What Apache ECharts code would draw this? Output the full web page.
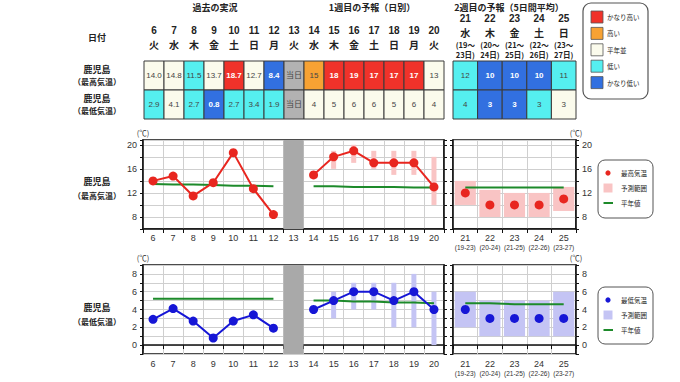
<!DOCTYPE html>
<html><head><meta charset="utf-8">
<script src="https://cdn.jsdelivr.net/npm/echarts@6/dist/echarts.min.js"></script>
<style>html,body{margin:0;padding:0;background:#fff}#c{width:680px;height:382px}</style>
</head><body><div id="c"></div>
<script>
// ---------- data ----------
const days1 = ['6','7','8','9','10','11','12','13','14','15','16','17','18','19','20'];
const weekdays1 = ['火','水','木','金','土','日','月','火','水','木','金','土','日','月','火'];
const days2 = ['21','22','23','24','25'];
const weekdays2 = ['水','木','金','土','日'];
const periodStart2 = ['19','20','21','22','23'];
const periodEnd2 = ['23','24','25','26','27'];
const todayDay = '13';
const tableRows = ['鹿児島\n（最高気温）','鹿児島\n（最低気温）'];

const maxCellText1 = ['14.0','14.8','11.5','13.7','18.7','12.7','8.4','当日','15','18','19','17','17','17','13'];
const maxCellClass1 = ['n','n','l','n','vh','n','vl','x','h','vh','vh','vh','vh','vh','n'];
const minCellText1 = ['2.9','4.1','2.7','0.8','2.7','3.4','1.9','当日','4','5','6','6','5','6','4'];
const minCellClass1 = ['l','n','l','vl','l','l','l','x','n','n','n','n','n','n','n'];
const maxCellText2 = ['12','10','10','10','11'];
const maxCellClass2 = ['l','vl','vl','vl','l'];
const minCellText2 = ['4','3','3','3','3'];
const minCellClass2 = ['l','vl','vl','l','n'];

const legendClasses = ['vh','h','n','l','vl'];
const legendNames = ['かなり高い','高い','平年並','低い','かなり低い'];

const obsDays = ['6','7','8','9','10','11','12'];
const fcDays = ['14','15','16','17','18','19','20'];

const obsMax = [14.0,14.8,11.5,13.7,18.7,12.7,8.4];
const normMaxObs = [13.5,13.4,13.4,13.3,13.2,13.2,13.1];
const fcMax = [15,18,19,17,17,17,13];
const fcMaxLow = [null,16,17,16,15,15,10];
const fcMaxHigh = [null,19,20,19,19,19,18];
const normMaxFc = [13.1,13.1,13.0,13.0,13.0,12.9,12.9];
const w2Max = [12,10,10,10,11];
const w2MaxLow = [10,8,8,8,9];
const w2MaxHigh = [14,12.5,12,12,13];
const normMaxW2 = [12.9,12.9,12.9,12.9,12.9];

const obsMin = [2.9,4.1,2.7,0.8,2.7,3.4,1.9];
const normMinObs = [5.2,5.2,5.2,5.2,5.2,5.2,5.2];
const fcMin = [4,5,6,6,5,6,4];
const fcMinLow = [null,3,4,4,2,2,0];
const fcMinHigh = [null,6,7,7,7,8,6];
const normMinFc = [5.0,5.0,4.9,4.9,4.8,4.8,4.7];
const w2Min = [4,3,3,3,3];
const w2MinLow = [2,1,1,1,1];
const w2MinHigh = [6,5,5,5,6];
const normMinW2 = [4.7,4.7,4.6,4.6,4.6];

const maxTickLabels = [8,12,16,20];
const minTickLabels = [0,2,4,6,8];

// ---------- styles ----------
const FF = "'Liberation Sans','Noto Sans CJK JP',sans-serif";
const JF = "'Noto Sans CJK JP',sans-serif";
const classColors = {vh:'#f0322a', h:'#f7a233', n:'#fbfbec', l:'#55eff0', vl:'#3270e0', x:'#b2b2b2'};
const RED = '#e8261f', BLUE = '#1616d6', GREEN = '#1d8a2a';
const PINK = '#f9c4c4', LILAC = '#c4c4f4';
const TXT = '#333';

function tableData(rows, classes) {
  const data = [], info = [];
  rows.forEach((row, r) => row.forEach((t, i) => { data.push([i, r]); info.push({t: t, c: classes[r][i]}); }));
  return {data, info};
}
function tableRender(info) {
  return function (params, api) {
    const c = api.coord([api.value(0), api.value(1)]);
    const s = api.size([1, 1]);
    const it = info[params.dataIndex];
    const strong = it.c === 'vh' || it.c === 'vl';
    return {type: 'group', children: [
      {type: 'rect', shape: {x: c[0] - s[0] / 2, y: c[1] - s[1] / 2, width: s[0], height: s[1]},
       style: {fill: classColors[it.c], stroke: '#3a3a3a', lineWidth: 1}},
      {type: 'text', x: c[0], y: c[1], style: {text: it.t, textAlign: 'center', textVerticalAlign: 'middle',
       fontSize: 8, fontWeight: strong ? 'bold' : 'normal', fill: strong ? '#fff' : '#444', fontFamily: FF}}
    ]};
  };
}
function rangeRender(widthFrac, minPx, color) {
  return function (params, api) {
    const x = api.value(0);
    const p1 = api.coord([x, api.value(2)]);
    const p2 = api.coord([x, api.value(1)]);
    const cw = api.size([1, 0])[0];
    const w = Math.max(cw * widthFrac, minPx);
    return {type: 'rect', shape: {x: p1[0] - w / 2, y: p1[1], width: w, height: p2[1] - p1[1]}, style: {fill: color}};
  };
}
function grayRender(params, api) {
  const cs = params.coordSys;
  const x = api.coord([api.value(0), 0])[0];
  const w = api.size([1, 0])[0];
  return {type: 'rect', shape: {x: x - w / 2, y: cs.y, width: w, height: cs.height}, style: {fill: '#a9a9a9'}};
}
function rangeData(cats, days, lows, highs) {
  const out = [];
  days.forEach((d, i) => { if (lows[i] != null) out.push([cats.indexOf(d), lows[i], highs[i]]); });
  return out;
}
const pairs = (days, vals) => days.map((d, i) => [d, vals[i]]);

const t1 = tableData([maxCellText1, minCellText1], [maxCellClass1, minCellClass1]);
const t2 = tableData([maxCellText2, minCellText2], [maxCellClass2, minCellClass2]);

function chartX(gi, cats, week2, margin) {
  return {
    type: 'category', gridIndex: gi, data: cats, boundaryGap: true,
    axisLine: {show: true, lineStyle: {color: '#111', width: 1.5}},
    axisTick: {show: true, length: 4, lineStyle: {color: '#111'}},
    splitLine: {show: true, lineStyle: {color: '#cfcfcf', width: 1}},
    axisLabel: week2 ? {
      margin: margin, color: TXT, fontFamily: FF, interval: 0,
      formatter: (v, i) => `{d|${v}}\n{p|(${periodStart2[i]}-${periodEnd2[i]})}`,
      rich: {d: {fontSize: 9, lineHeight: 10, color: TXT, fontFamily: FF}, p: {fontSize: 6.5, lineHeight: 9, color: TXT, fontFamily: FF}}
    } : {margin: margin, color: TXT, fontSize: 9, fontFamily: FF, interval: 0}
  };
}
function chartY(gi, pos, min, max, interval, labels, showLabels) {
  return {
    type: 'value', gridIndex: gi, position: pos, min: min, max: max, interval: interval,
    name: showLabels ? '(℃)' : '', nameLocation: 'end', nameGap: 4,
    nameTextStyle: {fontSize: 7.5, color: TXT, fontFamily: JF},
    axisLine: {show: true, lineStyle: {color: '#111', width: 1.5}},
    axisTick: {show: true, length: 3, lineStyle: {color: '#111'}},
    splitLine: {show: showLabels, lineStyle: {color: '#cfcfcf', width: 1}},
    axisLabel: {show: showLabels, margin: 6, color: TXT, fontSize: 9, fontFamily: FF,
      formatter: v => (labels.indexOf(v) >= 0 ? String(v) : '')}
  };
}
const gridBox = {show: true, borderColor: '#111', borderWidth: 1.5, backgroundColor: '#fff'};

const option = {
  animation: false,
  grid: [
    {left: 144, top: 61, width: 300, height: 58},
    {left: 453, top: 61, width: 123, height: 58},
    Object.assign({left: 143, top: 140, width: 301, height: 89}, gridBox),
    Object.assign({left: 453, top: 140, width: 123, height: 89}, gridBox),
    Object.assign({left: 143, top: 265, width: 301, height: 89}, gridBox),
    Object.assign({left: 453, top: 265, width: 123, height: 89}, gridBox)
  ],
  xAxis: [
    {type: 'category', gridIndex: 0, data: days1, position: 'top', axisLine: {show: false}, axisTick: {show: false},
     axisLabel: {margin: 10, interval: 0, formatter: (v, i) => `{d|${v}}\n{w|${weekdays1[i]}}`,
       rich: {d: {fontSize: 10, fontWeight: 'bold', lineHeight: 14, color: '#222', fontFamily: FF},
              w: {fontSize: 10, fontWeight: 'bold', lineHeight: 14, color: '#222', fontFamily: JF}}}},
    {type: 'category', gridIndex: 1, data: days2, position: 'top', axisLine: {show: false}, axisTick: {show: false},
     axisLabel: {margin: 1, interval: 0,
       formatter: (v, i) => `{d|${v}}\n{w|${weekdays2[i]}}\n{p|(${periodStart2[i]}～}\n{p|${periodEnd2[i]}日)}`,
       rich: {d: {fontSize: 10, fontWeight: 'bold', lineHeight: 14, color: '#222', fontFamily: FF},
              w: {fontSize: 10, fontWeight: 'bold', lineHeight: 14, color: '#222', fontFamily: JF},
              p: {fontSize: 7.5, fontWeight: 'bold', lineHeight: 10.5, color: '#222', fontFamily: JF}}}},
    chartX(2, days1, false, 4),
    chartX(3, days2, true, 4),
    chartX(4, days1, false, 5),
    chartX(5, days2, true, 5)
  ],
  yAxis: [
    {type: 'category', gridIndex: 0, data: tableRows, inverse: true, axisLine: {show: false}, axisTick: {show: false},
     axisLabel: {align: 'center', margin: 47, formatter: v => { const p = v.split('\n'); return `{a|${p[0]}}\n{b|${p[1]}}`; },
       rich: {a: {fontSize: 9, fontWeight: 'bold', lineHeight: 12, color: '#222', fontFamily: JF, align: 'center'},
              b: {fontSize: 8, fontWeight: 'bold', lineHeight: 12, color: '#222', fontFamily: JF, align: 'center'}}}},
    {type: 'category', gridIndex: 1, data: tableRows, inverse: true, axisLine: {show: false}, axisTick: {show: false}, axisLabel: {show: false}},
    chartY(2, 'left', 6, 20.8, 2, maxTickLabels, true),
    chartY(3, 'right', 6, 20.8, 2, maxTickLabels, true),
    chartY(4, 'left', -1, 9, 1, minTickLabels, true),
    chartY(5, 'right', -1, 9, 1, minTickLabels, true),
    chartY(2, 'right', 6, 20.8, 2, maxTickLabels, false),
    chartY(3, 'left', 6, 20.8, 2, maxTickLabels, false),
    chartY(4, 'right', -1, 9, 1, minTickLabels, false),
    chartY(5, 'left', -1, 9, 1, minTickLabels, false)
  ],
  series: [
    {type: 'custom', xAxisIndex: 0, yAxisIndex: 0, data: t1.data, renderItem: tableRender(t1.info)},
    {type: 'custom', xAxisIndex: 1, yAxisIndex: 1, data: t2.data, renderItem: tableRender(t2.info)},
    // gray "today" columns
    {type: 'custom', xAxisIndex: 2, yAxisIndex: 2, data: [[days1.indexOf(todayDay)]], renderItem: grayRender, z: 1},
    {type: 'custom', xAxisIndex: 4, yAxisIndex: 4, data: [[days1.indexOf(todayDay)]], renderItem: grayRender, z: 1},
    // forecast ranges
    {type: 'custom', xAxisIndex: 2, yAxisIndex: 2, data: rangeData(days1, fcDays, fcMaxLow, fcMaxHigh), renderItem: rangeRender(0, 5, PINK), z: 1},
    {type: 'custom', xAxisIndex: 3, yAxisIndex: 3, data: rangeData(days2, days2, w2MaxLow, w2MaxHigh), renderItem: rangeRender(0.86, 0, PINK), z: 1},
    {type: 'custom', xAxisIndex: 4, yAxisIndex: 4, data: rangeData(days1, fcDays, fcMinLow, fcMinHigh), renderItem: rangeRender(0, 5, LILAC), z: 1},
    {type: 'custom', xAxisIndex: 5, yAxisIndex: 5, data: rangeData(days2, days2, w2MinLow, w2MinHigh), renderItem: rangeRender(0.86, 0, LILAC), z: 1},
    // normals
    {type: 'line', xAxisIndex: 2, yAxisIndex: 2, data: pairs(obsDays, normMaxObs), symbol: 'none', lineStyle: {color: GREEN, width: 2}, z: 2},
    {type: 'line', xAxisIndex: 2, yAxisIndex: 2, data: pairs(fcDays, normMaxFc), symbol: 'none', lineStyle: {color: GREEN, width: 2}, z: 2},
    {type: 'line', xAxisIndex: 3, yAxisIndex: 3, data: pairs(days2, normMaxW2), symbol: 'none', lineStyle: {color: GREEN, width: 2}, z: 2},
    {type: 'line', xAxisIndex: 4, yAxisIndex: 4, data: pairs(obsDays, normMinObs), symbol: 'none', lineStyle: {color: GREEN, width: 2}, z: 2},
    {type: 'line', xAxisIndex: 4, yAxisIndex: 4, data: pairs(fcDays, normMinFc), symbol: 'none', lineStyle: {color: GREEN, width: 2}, z: 2},
    {type: 'line', xAxisIndex: 5, yAxisIndex: 5, data: pairs(days2, normMinW2), symbol: 'none', lineStyle: {color: GREEN, width: 2}, z: 2},
    // observed / forecast temps
    {type: 'line', xAxisIndex: 2, yAxisIndex: 2, data: pairs(obsDays, obsMax), symbol: 'circle', symbolSize: 9, itemStyle: {color: RED}, lineStyle: {color: RED, width: 2}, z: 3},
    {type: 'line', xAxisIndex: 2, yAxisIndex: 2, data: pairs(fcDays, fcMax), symbol: 'circle', symbolSize: 9, itemStyle: {color: RED}, lineStyle: {color: RED, width: 2}, z: 3},
    {type: 'scatter', xAxisIndex: 3, yAxisIndex: 3, data: pairs(days2, w2Max), symbol: 'circle', symbolSize: 9, itemStyle: {color: RED, opacity: 1}, z: 3},
    {type: 'line', xAxisIndex: 4, yAxisIndex: 4, data: pairs(obsDays, obsMin), symbol: 'circle', symbolSize: 9, itemStyle: {color: BLUE}, lineStyle: {color: BLUE, width: 2}, z: 3},
    {type: 'line', xAxisIndex: 4, yAxisIndex: 4, data: pairs(fcDays, fcMin), symbol: 'circle', symbolSize: 9, itemStyle: {color: BLUE}, lineStyle: {color: BLUE, width: 2}, z: 3},
    {type: 'scatter', xAxisIndex: 5, yAxisIndex: 5, data: pairs(days2, w2Min), symbol: 'circle', symbolSize: 9, itemStyle: {color: BLUE, opacity: 1}, z: 3}
  ],
  graphic: []
};

function txt(x, y, s, size, weight, align, font) {
  return {type: 'text', x: x, y: y, silent: true, style: {text: s, fontSize: size, fontWeight: weight || 'normal',
    textAlign: align || 'center', textVerticalAlign: 'middle', fill: '#222', fontFamily: font || JF}};
}
const g = option.graphic;
g.push(txt(215, 7, '過去の実況', 9, 'bold'));
g.push(txt(372, 7, '1週目の予報（日別）', 9, 'bold'));
g.push(txt(509, 7, '2週目の予報（5日間平均）', 9, 'bold'));
g.push(txt(97, 37, '日付', 9, 'bold'));
g.push(txt(97, 181, '鹿児島', 9, 'bold'));
g.push(txt(97, 195, '（最高気温）', 8, 'bold'));
g.push(txt(97, 307, '鹿児島', 9, 'bold'));
g.push(txt(97, 321, '（最低気温）', 8, 'bold'));

// category legend (top right)
g.push({type: 'rect', shape: {x: 583, y: 3, width: 65, height: 96, r: 8}, style: {fill: '#fff', stroke: '#555', lineWidth: 1.2}});
legendClasses.forEach((c, i) => {
  const cy = 17 + i * 16.4;
  g.push({type: 'rect', shape: {x: 591, y: cy - 6, width: 12, height: 12}, style: {fill: classColors[c], stroke: '#555', lineWidth: 0.8}});
  g.push(txt(607, cy, legendNames[i], 6.5, 'normal', 'left'));
});

// chart legends
function chartLegend(top, h, name, col, fill) {
  g.push({type: 'rect', shape: {x: 598, y: top, width: 55, height: h, r: 7}, style: {fill: '#fff', stroke: '#555', lineWidth: 1}});
  const y1 = top + 13, y2 = top + 28, y3 = top + 43;
  g.push({type: 'circle', shape: {cx: 608, cy: y1, r: 2.6}, style: {fill: col}});
  g.push(txt(621, y1, name, 6.5, 'normal', 'left'));
  g.push({type: 'rect', shape: {x: 603.5, y: y2 - 4.5, width: 9, height: 9}, style: {fill: fill}});
  g.push(txt(621, y2, '予測範囲', 6.5, 'normal', 'left'));
  g.push({type: 'line', shape: {x1: 603.5, y1: y3, x2: 613, y2: y3}, style: {stroke: GREEN, lineWidth: 2}});
  g.push(txt(621, y3, '平年値', 6.5, 'normal', 'left'));
}
chartLegend(160, 58, '最高気温', RED, PINK);
chartLegend(287, 57, '最低気温', BLUE, LILAC);

const chart = echarts.init(document.getElementById('c'), null, {renderer: 'svg'});
chart.setOption(option);
</script>
</body></html>
